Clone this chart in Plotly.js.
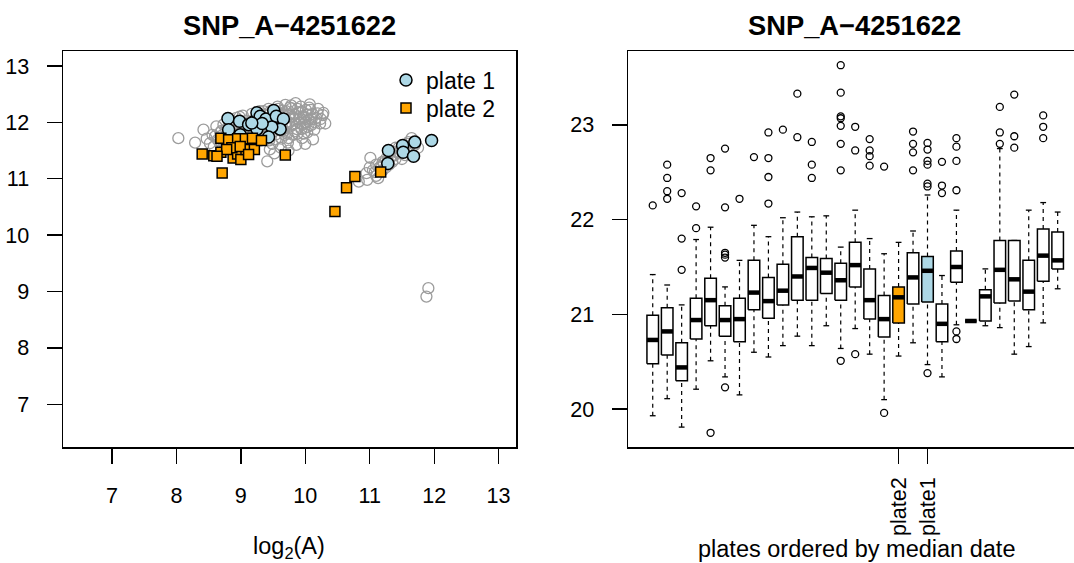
<!DOCTYPE html>
<html>
<head>
<meta charset="utf-8">
<script src="https://cdn.plot.ly/plotly-3.0.1.min.js"></script>
<style>html,body{margin:0;padding:0;background:#fff;}#chart{width:1074px;height:563px;}</style>
</head>
<body>
<div id="chart"></div>
<script>
// ---------- Left panel data: log2(A) vs second coordinate ----------
const allX = [8.03,8.29,8.42,8.47,8.52,8.56,8.58,8.62,8.64,8.68,
  8.71,8.73,8.75,8.77,8.79,8.82,8.84,8.86,8.88,8.91,8.93,8.95,8.97,8.99,
  9.01,9.03,9.05,9.07,9.09,9.11,9.13,9.15,9.17,9.19,9.21,9.23,9.25,9.27,9.29,
  9.31,9.33,9.35,9.37,9.39,9.41,9.41,9.43,9.45,9.47,9.49,9.51,9.53,9.55,9.57,9.59,9.45,9.52,
  9.61,9.63,9.65,9.67,9.69,9.71,9.73,9.75,9.77,9.79,9.81,9.83,9.85,9.87,9.89,9.62,9.74,9.86,
  9.91,9.93,9.95,9.97,9.99,10.01,10.03,10.05,10.07,10.09,10.11,10.14,10.17,10.20,10.23,10.27,10.31,10.28,10.12,10.00,
  9.2,9.3,9.4,9.5,9.6,9.7,9.8,9.9,10.0,9.55,9.65,9.75,9.85,9.95,9.35,9.45,9.25,9.15,9.05,8.95,
  8.60,8.66,8.70,8.74,8.80,8.85,8.90,8.94,9.00,9.04,9.08,9.12,9.16,9.22,9.26,9.32,9.36,9.42,9.46,9.50,
  9.54,9.58,9.62,9.66,9.70,9.72,9.76,9.80,9.84,9.88,9.92,9.96,10.02,10.06,10.10,10.15,10.19,10.24,10.08,9.98,
  9.28,9.38,9.48,9.58,9.68,9.78,9.88,9.98,10.04,9.64,9.74,9.84,9.94,9.34,9.44,9.54,9.18,9.08,8.98,8.88,
  10.83,10.96,11.13,11.01,10.95,11.0,11.05,11.1,11.15,11.2,11.25,11.3,11.35,11.4,11.45,11.5,11.55,11.6,11.65,11.7,11.75,11.2,11.3,11.4,11.6,11.1,11.25,11.5,11.35,11.45,
  11.08,11.18,11.28,11.38,11.48,11.58,11.42,11.32,11.22,11.62,
  11.91,11.88];
const allY = [11.72,11.64,11.87,11.71,11.63,11.78,11.57,11.93,11.69,11.82,
  11.61,11.96,11.74,11.88,11.55,12.02,11.67,11.80,11.93,11.60,12.08,11.73,11.86,11.98,
  11.65,12.12,11.79,11.92,12.03,11.58,11.70,11.85,12.15,11.96,11.63,12.07,11.77,11.90,12.20,
  11.68,12.01,11.83,12.13,11.94,11.31,11.72,12.24,11.87,12.05,11.62,12.17,11.97,11.79,12.28,11.91,11.52,11.45,
  12.09,11.71,12.21,11.85,12.31,12.01,11.64,12.14,11.93,12.25,11.78,12.06,12.34,11.88,12.18,11.55,11.50,11.60,
  11.99,12.28,11.72,12.11,11.90,12.22,11.82,12.05,12.32,11.95,12.15,11.87,12.08,12.24,11.98,12.13,11.98,12.17,11.70,11.62,
  11.90,11.85,12.00,12.10,12.00,11.95,12.10,12.05,12.00,11.90,12.15,12.00,11.98,12.18,12.20,12.15,12.00,11.95,11.88,11.80,
  11.75,11.68,11.85,11.64,11.76,11.92,11.70,11.84,11.96,11.74,11.86,12.00,11.80,12.04,11.88,12.12,11.96,12.06,12.20,11.84,
  12.02,12.16,11.90,12.06,12.20,11.80,12.26,11.96,12.14,12.24,12.08,11.96,12.14,12.26,12.06,12.00,12.16,12.06,12.22,11.80,
  11.92,11.94,11.96,12.24,11.78,12.30,11.80,12.08,11.92,11.86,11.72,11.84,11.88,11.74,11.68,11.70,11.72,11.62,12.10,11.66,
  10.95,10.98,11.01,11.37,11.10,11.20,11.15,11.25,11.20,11.30,11.35,11.25,11.40,11.35,11.45,11.50,11.42,11.55,11.72,11.60,11.55,11.15,11.45,11.55,11.65,11.05,11.20,11.35,11.30,11.55,
  11.12,11.22,11.32,11.42,11.52,11.62,11.48,11.38,11.28,11.58,
  9.06,8.91];

const plate1X = [8.80,8.98,8.81,9.12,9.21,9.25,9.30,9.39,9.51,9.55,9.66,9.61,9.48,9.43,9.25,9.33,9.17,8.99,
  11.29,11.51,11.52,11.70,11.68,11.28,11.96];
const plate1Y = [12.07,12.02,11.87,11.96,12.02,12.17,12.11,12.06,12.21,12.11,12.06,11.88,11.92,11.74,11.88,11.98,11.99,11.78,
  11.50,11.59,11.47,11.65,11.40,11.27,11.68];

const plate2X = [8.40,8.58,8.69,8.69,8.71,8.81,8.88,8.95,8.95,9.00,9.07,9.08,9.18,9.21,9.32,9.69,8.86,8.78,8.99,9.12,8.63,
  10.46,10.64,10.77,11.17];
const plate2Y = [11.44,11.41,11.72,11.47,11.10,11.69,11.37,11.71,11.44,11.34,11.71,11.52,11.72,11.52,11.68,11.42,11.55,11.52,11.57,11.43,11.40,
  10.42,10.84,11.04,11.12];

// ---------- Right panel data: box statistics per plate ----------
const plateUpper = [21.42,21.31,21.10,21.79,21.92,21.29,21.57,21.94,21.82,22.02,22.08,22.03,22.04,21.71,22.10,21.80,21.64,21.76,21.88,22.26,21.41,22.10,20.93,21.48,22.75,21.78,22.10,22.18,22.08];
const plateQ3    = [20.99,21.07,20.70,21.17,21.38,21.09,21.17,21.57,21.39,21.53,21.82,21.60,21.59,21.54,21.76,21.48,21.20,21.29,21.65,21.61,21.11,21.67,20.93,21.26,21.78,21.78,21.57,21.90,21.87];
const plateMedian= [20.73,20.82,20.44,20.94,21.15,20.94,20.95,21.23,21.14,21.25,21.40,21.49,21.44,21.36,21.52,21.15,20.95,21.18,21.39,21.46,20.90,21.50,20.93,21.19,21.47,21.37,21.24,21.62,21.57];
const plateQ1    = [20.48,20.57,20.30,20.74,20.88,20.77,20.71,21.05,20.96,21.10,21.15,21.15,21.22,21.15,21.29,20.95,20.76,20.91,21.11,21.13,20.71,21.34,20.93,20.93,21.12,21.14,21.05,21.35,21.48];
const plateLower = [19.93,20.11,19.81,20.21,20.51,20.34,20.15,20.60,20.55,20.67,20.77,20.67,20.88,20.64,20.85,20.58,20.10,20.56,20.70,20.47,20.34,20.89,20.93,20.88,20.86,20.58,20.66,20.91,21.27];
const plateOutliers = [
  [22.15],
  [22.58,22.44,22.30,22.22],
  [22.28,21.80,21.47],
  [22.14,21.91],
  [22.65,22.52,19.75],
  [22.75,22.13,21.65,21.63,21.60,20.23],
  [22.22],
  [22.66],
  [22.92,22.65,22.45,22.17],
  [22.95],
  [23.33,22.87],
  [22.82,22.58,22.44],
  [],
  [23.63,23.34,23.09,23.07,22.99,22.80,22.52,20.51],
  [22.98,22.73,20.58],
  [22.85,22.73,22.67,22.57],
  [22.56,19.96],
  [],
  [22.93,22.80,22.71,22.52],
  [22.81,22.74,22.62,22.58,22.38,22.35,20.38],
  [22.61,22.36,22.28],
  [22.86,22.77,22.62,22.31,20.82,20.74],
  [],
  [],
  [23.19,22.92,22.80],
  [23.32,22.88,22.76],
  [],
  [23.10,22.98,22.86],
  []
];
const plate2Pos = 18;   // highlighted plate 2 (orange)
const plate1Pos = 20;   // highlighted plate 1 (light blue)
const plateTickVals = [18, 20];
const plateTickText = ['plate2', 'plate1'];

// ---------- Build traces ----------
const FONT = 'Liberation Sans, Arial, Helvetica, sans-serif';
const traces = [];
traces.push({x: allX, y: allY, type: 'scatter', mode: 'markers', xaxis: 'x', yaxis: 'y', showlegend: false,
  marker: {symbol: 'circle-open', size: 11, color: '#9c9c9c', line: {width: 1.3, color: '#9c9c9c'}}, hoverinfo: 'skip'});
traces.push({x: plate1X, y: plate1Y, type: 'scatter', mode: 'markers', xaxis: 'x', yaxis: 'y', name: 'plate 1', legend: 'legend',
  marker: {symbol: 'circle', size: 12, color: '#ADD8E6', line: {width: 1.5, color: '#000'}}});
traces.push({x: plate2X, y: plate2Y, type: 'scatter', mode: 'markers', xaxis: 'x', yaxis: 'y', name: 'plate 2', legend: 'legend2',
  marker: {symbol: 'square', size: 10, color: '#FFA500', line: {width: 1.5, color: '#000'}}});

const n = plateMedian.length;
const halfW = 0.4, capW = 0.2;
const wx = [], wy = [], cx = [], cy = [], ox = [], oy = [];
for (let i = 0; i < n; i++) {
  const p = i + 1;
  wx.push(p, p, null, p, p, null);
  wy.push(plateLower[i], plateQ1[i], null, plateQ3[i], plateUpper[i], null);
  cx.push(p - capW, p + capW, null, p - capW, p + capW, null);
  cy.push(plateLower[i], plateLower[i], null, plateUpper[i], plateUpper[i], null);
  plateOutliers[i].forEach(v => { ox.push(p); oy.push(v); });
}
traces.push({x: wx, y: wy, type: 'scatter', mode: 'lines', xaxis: 'x2', yaxis: 'y2', showlegend: false, hoverinfo: 'skip',
  line: {color: '#000', width: 1.2, dash: '4px,4px'}});
traces.push({x: cx, y: cy, type: 'scatter', mode: 'lines', xaxis: 'x2', yaxis: 'y2', showlegend: false, hoverinfo: 'skip',
  line: {color: '#000', width: 1.3}});
for (let i = 0; i < n; i++) {
  const p = i + 1;
  const fill = p === plate2Pos ? '#FFA500' : (p === plate1Pos ? '#ADD8E6' : '#ffffff');
  traces.push({x: [p - halfW, p + halfW, p + halfW, p - halfW, p - halfW],
    y: [plateQ1[i], plateQ1[i], plateQ3[i], plateQ3[i], plateQ1[i]],
    type: 'scatter', mode: 'lines', fill: 'toself', fillcolor: fill, xaxis: 'x2', yaxis: 'y2',
    showlegend: false, hoverinfo: 'skip', line: {color: '#000', width: 1.5}});
  traces.push({x: [p - halfW, p + halfW], y: [plateMedian[i], plateMedian[i]], type: 'scatter', mode: 'lines',
    xaxis: 'x2', yaxis: 'y2', showlegend: false, hoverinfo: 'skip', line: {color: '#000', width: 4.5}});
}
traces.push({x: ox, y: oy, type: 'scatter', mode: 'markers', xaxis: 'x2', yaxis: 'y2', showlegend: false, hoverinfo: 'skip',
  marker: {symbol: 'circle-open', size: 7, color: '#000', line: {width: 1.3, color: '#000'}}});

const W = 1074, H = 563;
const px = v => v / W, py = v => 1 - v / H;
const axisBase = {showgrid: false, zeroline: false, showline: true, linecolor: '#000', linewidth: 1.5,
  ticks: 'outside', ticklen: 15, tickwidth: 1.3, tickcolor: '#000',
  tickfont: {family: FONT, size: 21.6, color: '#000'}};
const legendBase = {xanchor: 'left', yanchor: 'middle', bgcolor: 'rgba(0,0,0,0)',
  font: {family: FONT, size: 23, color: '#000'}};

const layout = {
  width: W, height: H, margin: {l: 0, r: 0, t: 0, b: 0},
  paper_bgcolor: '#fff', plot_bgcolor: '#fff',
  font: {family: FONT, color: '#000'},
  xaxis: Object.assign({}, axisBase, {domain: [px(63), px(516)], range: [6.24, 13.27], tickvals: [7,8,9,10,11,12,13],
    mirror: true, anchor: 'y', ticklabelstandoff: 14}),
  yaxis: Object.assign({}, axisBase, {domain: [py(447), py(51)], range: [6.242, 13.266], tickvals: [7,8,9,10,11,12,13],
    mirror: true, anchor: 'x', ticklabelstandoff: 13}),
  xaxis2: Object.assign({}, axisBase, {domain: [px(628), 1], range: [-0.71, 30.13], tickvals: plateTickVals, ticktext: plateTickText,
    tickangle: -90, mirror: true, anchor: 'y2', ticklabelstandoff: 5}),
  yaxis2: Object.assign({}, axisBase, {domain: [py(447), py(51)], range: [19.60, 23.78], tickvals: [20,21,22,23],
    mirror: false, anchor: 'x2', ticklabelstandoff: 13}),
  showlegend: true,
  legend: Object.assign({}, legendBase, {x: px(386), y: py(80)}),
  legend2: Object.assign({}, legendBase, {x: px(386), y: py(108)}),
  annotations: [
    {text: '<b>SNP_A−4251622</b>', x: px(289.5), y: py(25), xref: 'paper', yref: 'paper', showarrow: false,
      xanchor: 'center', yanchor: 'middle', font: {family: FONT, size: 27.3, color: '#000'}},
    {text: '<b>SNP_A−4251622</b>', x: px(854), y: py(25), xref: 'paper', yref: 'paper', showarrow: false,
      xanchor: 'center', yanchor: 'middle', font: {family: FONT, size: 27.3, color: '#000'}},
    {text: 'log<sub>2</sub>(A)', x: px(289), y: py(547), xref: 'paper', yref: 'paper', showarrow: false,
      xanchor: 'center', yanchor: 'middle', font: {family: FONT, size: 23.5, color: '#000'}},
    {text: 'plates ordered by median date', x: px(856), y: py(549), xref: 'paper', yref: 'paper', showarrow: false,
      xanchor: 'center', yanchor: 'middle', font: {family: FONT, size: 23.5, color: '#000'}}
  ]
};

Plotly.newPlot('chart', traces, layout, {staticPlot: true, displayModeBar: false});
</script>
</body>
</html>
